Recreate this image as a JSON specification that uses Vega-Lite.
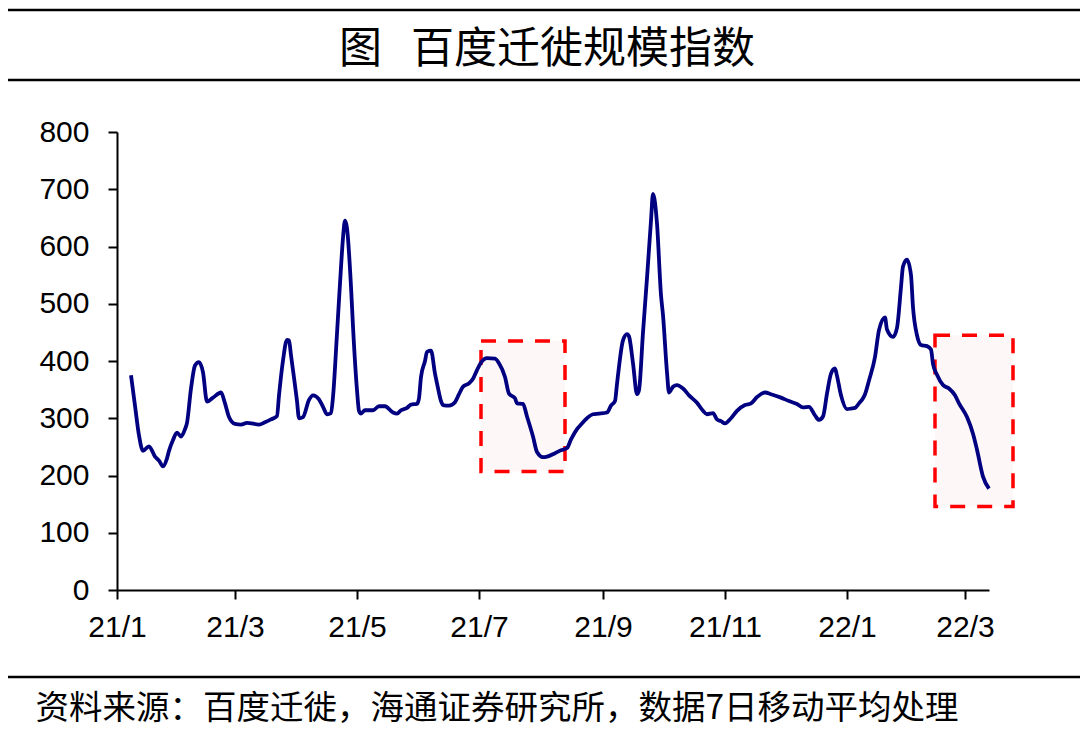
{
  "$schema": "https://vega.github.io/schema/vega-lite/v6.json",
  "autosize": {"type": "none"},
  "width": 872,
  "height": 458,
  "padding": {"left": 117, "top": 132, "right": 91, "bottom": 144},
  "background": "white",
  "config": {"view": {"stroke": null}},
  "title": {
    "text": "图\u00a0\u00a0\u00a0百度迁徙规模指数",
    "font": "Noto Sans CJK SC",
    "fontSize": 43,
    "fontWeight": "normal",
    "color": "black",
    "anchor": "middle",
    "frame": "group",
    "offset": -63,
    "dx": -6
  },
  "datasets": {
    "idx": [
      {"date": "2021-01-08", "v": 375}, {"date": "2021-01-10", "v": 322}, {"date": "2021-01-12", "v": 270},
      {"date": "2021-01-14", "v": 243}, {"date": "2021-01-17", "v": 251}, {"date": "2021-01-20", "v": 233},
      {"date": "2021-01-22", "v": 226}, {"date": "2021-01-24", "v": 216}, {"date": "2021-01-26", "v": 230},
      {"date": "2021-01-27", "v": 243}, {"date": "2021-01-29", "v": 262}, {"date": "2021-01-31", "v": 275},
      {"date": "2021-02-02", "v": 268}, {"date": "2021-02-04", "v": 281}, {"date": "2021-02-05", "v": 292},
      {"date": "2021-02-07", "v": 352}, {"date": "2021-02-09", "v": 392}, {"date": "2021-02-11", "v": 398},
      {"date": "2021-02-13", "v": 380}, {"date": "2021-02-15", "v": 329}, {"date": "2021-02-18", "v": 336},
      {"date": "2021-02-22", "v": 345}, {"date": "2021-02-24", "v": 326}, {"date": "2021-02-26", "v": 302},
      {"date": "2021-03-01", "v": 290}, {"date": "2021-03-04", "v": 289}, {"date": "2021-03-07", "v": 292},
      {"date": "2021-03-13", "v": 289}, {"date": "2021-03-16", "v": 293}, {"date": "2021-03-19", "v": 298},
      {"date": "2021-03-22", "v": 304}, {"date": "2021-03-23", "v": 340}, {"date": "2021-03-25", "v": 401},
      {"date": "2021-03-27", "v": 437}, {"date": "2021-03-28", "v": 436}, {"date": "2021-03-29", "v": 410},
      {"date": "2021-04-01", "v": 330}, {"date": "2021-04-02", "v": 300}, {"date": "2021-04-04", "v": 302},
      {"date": "2021-04-07", "v": 332}, {"date": "2021-04-09", "v": 340}, {"date": "2021-04-12", "v": 333},
      {"date": "2021-04-14", "v": 320}, {"date": "2021-04-16", "v": 307}, {"date": "2021-04-18", "v": 309},
      {"date": "2021-04-19", "v": 337}, {"date": "2021-04-21", "v": 448}, {"date": "2021-04-23", "v": 564},
      {"date": "2021-04-24", "v": 615}, {"date": "2021-04-25", "v": 645}, {"date": "2021-04-26", "v": 632},
      {"date": "2021-04-28", "v": 530}, {"date": "2021-04-29", "v": 460}, {"date": "2021-05-01", "v": 349},
      {"date": "2021-05-02", "v": 313}, {"date": "2021-05-03", "v": 308}, {"date": "2021-05-05", "v": 314},
      {"date": "2021-05-09", "v": 314}, {"date": "2021-05-12", "v": 321}, {"date": "2021-05-15", "v": 321},
      {"date": "2021-05-19", "v": 310}, {"date": "2021-05-21", "v": 308}, {"date": "2021-05-23", "v": 314},
      {"date": "2021-05-26", "v": 318}, {"date": "2021-05-28", "v": 324}, {"date": "2021-05-31", "v": 325},
      {"date": "2021-06-01", "v": 335}, {"date": "2021-06-02", "v": 372}, {"date": "2021-06-04", "v": 400},
      {"date": "2021-06-05", "v": 416}, {"date": "2021-06-07", "v": 418}, {"date": "2021-06-09", "v": 378},
      {"date": "2021-06-10", "v": 361}, {"date": "2021-06-12", "v": 330}, {"date": "2021-06-13", "v": 323},
      {"date": "2021-06-16", "v": 322}, {"date": "2021-06-19", "v": 328}, {"date": "2021-06-21", "v": 342},
      {"date": "2021-06-23", "v": 355}, {"date": "2021-06-26", "v": 361}, {"date": "2021-06-28", "v": 369},
      {"date": "2021-06-30", "v": 384}, {"date": "2021-07-02", "v": 397}, {"date": "2021-07-05", "v": 405},
      {"date": "2021-07-09", "v": 404}, {"date": "2021-07-11", "v": 396}, {"date": "2021-07-14", "v": 372},
      {"date": "2021-07-16", "v": 343}, {"date": "2021-07-19", "v": 335}, {"date": "2021-07-20", "v": 326},
      {"date": "2021-07-23", "v": 325}, {"date": "2021-07-25", "v": 303}, {"date": "2021-07-28", "v": 268},
      {"date": "2021-07-30", "v": 241}, {"date": "2021-08-02", "v": 232}, {"date": "2021-08-04", "v": 233},
      {"date": "2021-08-08", "v": 239}, {"date": "2021-08-11", "v": 244}, {"date": "2021-08-14", "v": 248},
      {"date": "2021-08-16", "v": 263}, {"date": "2021-08-19", "v": 281}, {"date": "2021-08-21", "v": 289},
      {"date": "2021-08-24", "v": 300}, {"date": "2021-08-27", "v": 307}, {"date": "2021-08-30", "v": 308},
      {"date": "2021-09-03", "v": 310}, {"date": "2021-09-05", "v": 322}, {"date": "2021-09-07", "v": 330},
      {"date": "2021-09-08", "v": 360}, {"date": "2021-09-11", "v": 436}, {"date": "2021-09-13", "v": 447},
      {"date": "2021-09-14", "v": 443}, {"date": "2021-09-16", "v": 396}, {"date": "2021-09-18", "v": 342},
      {"date": "2021-09-19", "v": 349}, {"date": "2021-09-21", "v": 450}, {"date": "2021-09-23", "v": 545},
      {"date": "2021-09-25", "v": 645}, {"date": "2021-09-26", "v": 692}, {"date": "2021-09-28", "v": 640},
      {"date": "2021-09-30", "v": 515}, {"date": "2021-10-01", "v": 480}, {"date": "2021-10-03", "v": 380},
      {"date": "2021-10-04", "v": 345}, {"date": "2021-10-06", "v": 355}, {"date": "2021-10-08", "v": 358},
      {"date": "2021-10-11", "v": 352}, {"date": "2021-10-14", "v": 340}, {"date": "2021-10-18", "v": 327},
      {"date": "2021-10-21", "v": 313}, {"date": "2021-10-23", "v": 307}, {"date": "2021-10-26", "v": 309},
      {"date": "2021-10-28", "v": 298}, {"date": "2021-10-30", "v": 295}, {"date": "2021-11-01", "v": 291},
      {"date": "2021-11-04", "v": 300}, {"date": "2021-11-07", "v": 313}, {"date": "2021-11-11", "v": 323},
      {"date": "2021-11-14", "v": 326}, {"date": "2021-11-17", "v": 337}, {"date": "2021-11-21", "v": 345},
      {"date": "2021-11-24", "v": 342}, {"date": "2021-11-29", "v": 336}, {"date": "2021-12-03", "v": 330},
      {"date": "2021-12-07", "v": 325}, {"date": "2021-12-10", "v": 319}, {"date": "2021-12-13", "v": 320},
      {"date": "2021-12-16", "v": 305}, {"date": "2021-12-18", "v": 297}, {"date": "2021-12-20", "v": 303},
      {"date": "2021-12-22", "v": 343}, {"date": "2021-12-24", "v": 378}, {"date": "2021-12-26", "v": 387},
      {"date": "2021-12-27", "v": 374}, {"date": "2021-12-29", "v": 340}, {"date": "2022-01-01", "v": 316},
      {"date": "2022-01-03", "v": 317}, {"date": "2022-01-05", "v": 318}, {"date": "2022-01-07", "v": 326},
      {"date": "2022-01-09", "v": 335}, {"date": "2022-01-10", "v": 342}, {"date": "2022-01-12", "v": 366},
      {"date": "2022-01-15", "v": 407}, {"date": "2022-01-17", "v": 454}, {"date": "2022-01-20", "v": 476},
      {"date": "2022-01-21", "v": 455}, {"date": "2022-01-24", "v": 442}, {"date": "2022-01-26", "v": 458},
      {"date": "2022-01-28", "v": 529}, {"date": "2022-01-29", "v": 565}, {"date": "2022-01-31", "v": 577},
      {"date": "2022-02-02", "v": 550}, {"date": "2022-02-03", "v": 494}, {"date": "2022-02-05", "v": 445},
      {"date": "2022-02-07", "v": 428}, {"date": "2022-02-10", "v": 426}, {"date": "2022-02-12", "v": 420},
      {"date": "2022-02-13", "v": 395}, {"date": "2022-02-15", "v": 376}, {"date": "2022-02-18", "v": 358},
      {"date": "2022-02-21", "v": 352}, {"date": "2022-02-24", "v": 340}, {"date": "2022-02-26", "v": 326},
      {"date": "2022-03-02", "v": 302}, {"date": "2022-03-05", "v": 273}, {"date": "2022-03-07", "v": 245},
      {"date": "2022-03-10", "v": 198}, {"date": "2022-03-13", "v": 177}
    ],
    "boxes": [
      {"start": "2021-07-02", "end": "2021-08-13", "low": 207, "high": 435},
      {"start": "2022-02-14", "end": "2022-03-25", "low": 146, "high": 445}
    ]
  },
  "layer": [
    {
      "data": {"name": "boxes"},
      "mark": {"type": "rect", "fill": "#fdf7f7", "stroke": "#ff0000", "strokeWidth": 3.5, "strokeDash": [15, 12], "clip": false},
      "encoding": {
        "x": {"field": "start", "type": "temporal"},
        "x2": {"field": "end"},
        "y": {"field": "low", "type": "quantitative"},
        "y2": {"field": "high"}
      }
    },
    {
      "data": {"name": "idx"},
      "mark": {"type": "line", "color": "#000080", "strokeWidth": 3.8, "interpolate": "monotone"},
      "encoding": {
        "x": {
          "field": "date",
          "type": "temporal",
          "scale": {
            "type": "utc",
            "domain": [{"year": 2021, "month": 1, "date": 1, "utc": true}, {"year": 2022, "month": 3, "date": 13, "utc": true}]
          },
          "axis": {
            "values": [
              {"year": 2021, "month": 1, "date": 1, "utc": true},
              {"year": 2021, "month": 3, "date": 1, "utc": true},
              {"year": 2021, "month": 5, "date": 1, "utc": true},
              {"year": 2021, "month": 7, "date": 1, "utc": true},
              {"year": 2021, "month": 9, "date": 1, "utc": true},
              {"year": 2021, "month": 11, "date": 1, "utc": true},
              {"year": 2022, "month": 1, "date": 1, "utc": true},
              {"year": 2022, "month": 3, "date": 1, "utc": true}
            ],
            "labelExpr": "utcFormat(datum.value, '%y/%-m')",
            "grid": false,
            "labelFont": "Liberation Sans",
            "labelFontSize": 30,
            "labelColor": "black",
            "labelPadding": 13,
            "labelFlush": false,
            "labelOverlap": false,
            "tickSize": 9,
            "tickWidth": 2,
            "tickColor": "black",
            "domainColor": "black",
            "domainWidth": 2,
            "title": "资料来源：百度迁徙，海通证券研究所，数据7日移动平均处理",
            "titleFont": "Noto Sans CJK SC",
            "titleFontSize": 33.5,
            "titleFontWeight": "normal",
            "titleColor": "black",
            "titleAnchor": "start",
            "titleAlign": "left",
            "titleBaseline": "middle",
            "titleX": -82,
            "titleY": 118
          }
        },
        "y": {
          "field": "v",
          "type": "quantitative",
          "scale": {"domain": [0, 800], "nice": false},
          "axis": {
            "values": [0, 100, 200, 300, 400, 500, 600, 700, 800],
            "grid": false,
            "labelFont": "Liberation Sans",
            "labelFontSize": 30,
            "labelColor": "black",
            "labelPadding": 19,
            "tickSize": 9,
            "tickWidth": 2,
            "tickColor": "black",
            "domainColor": "black",
            "domainWidth": 2,
            "title": null
          }
        }
      }
    },
    {
      "data": {"values": [{}]},
      "mark": {"type": "rule", "color": "black", "strokeWidth": 2.5, "clip": false},
      "encoding": {"x": {"value": -109}, "x2": {"value": 963}, "y": {"value": -122}}
    },
    {
      "data": {"values": [{}]},
      "mark": {"type": "rule", "color": "black", "strokeWidth": 2.5, "clip": false},
      "encoding": {"x": {"value": -109}, "x2": {"value": 963}, "y": {"value": -52}}
    },
    {
      "data": {"values": [{}]},
      "mark": {"type": "rule", "color": "black", "strokeWidth": 2.5, "clip": false},
      "encoding": {"x": {"value": -109}, "x2": {"value": 963}, "y": {"value": 545}}
    }
  ]
}
